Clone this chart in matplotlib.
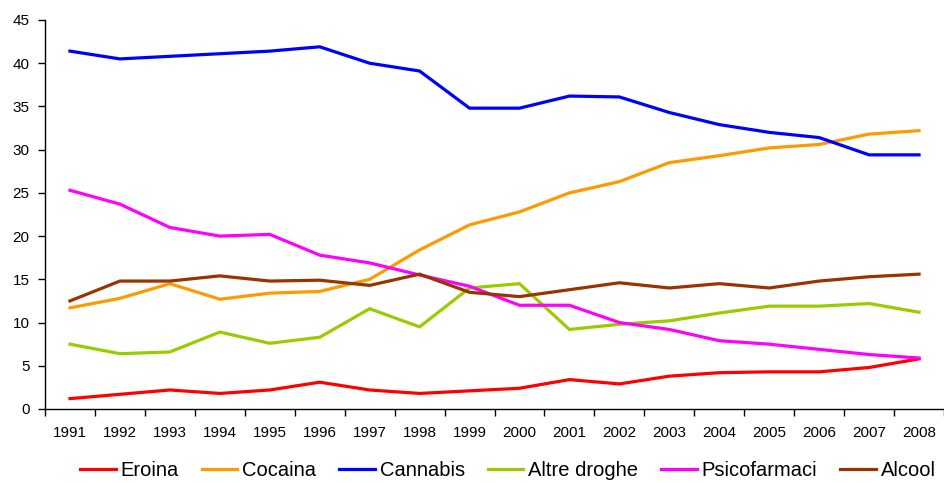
import matplotlib.pyplot as plt
import numpy as np

plt.rcParams['font.family'] = ['Liberation Sans', 'DejaVu Sans']

anni = [str(a) for a in range(1991, 2009)]
eroina = [1.2, 1.7, 2.2, 1.8, 2.2, 3.1, 2.2, 1.8, 2.1, 2.4, 3.4, 2.9, 3.8, 4.2, 4.3, 4.3, 4.8, 5.8]
cocaina = [11.7, 12.8, 14.5, 12.7, 13.4, 13.6, 15.0, 18.4, 21.3, 22.8, 25.0, 26.3, 28.5, 29.3, 30.2, 30.6, 31.8, 32.2]
cannabis = [41.4, 40.5, 40.8, 41.1, 41.4, 41.9, 40.0, 39.1, 34.8, 34.8, 36.2, 36.1, 34.3, 32.9, 32.0, 31.4, 29.4, 29.4]
altre = [7.5, 6.4, 6.6, 8.9, 7.6, 8.3, 11.6, 9.5, 14.0, 14.5, 9.2, 9.8, 10.2, 11.1, 11.9, 11.9, 12.2, 11.2]
psico = [25.3, 23.7, 21.0, 20.0, 20.2, 17.8, 16.9, 15.5, 14.2, 12.0, 12.0, 10.0, 9.2, 7.9, 7.5, 6.9, 6.3, 5.9]
alcool = [12.5, 14.8, 14.8, 15.4, 14.8, 14.9, 14.3, 15.6, 13.5, 13.0, 13.8, 14.6, 14.0, 14.5, 14.0, 14.8, 15.3, 15.6]

serie = [("Eroina", eroina, "#FF0000"),
         ("Cocaina", cocaina, "#FF9900"),
         ("Cannabis", cannabis, "#0000FF"),
         ("Altre droghe", altre, "#99CC00"),
         ("Psicofarmaci", psico, "#FF00FF"),
         ("Alcool", alcool, "#993300")]

fig = plt.figure(figsize=(9.44, 4.83), dpi=100)
ax = fig.add_axes([45/944, 1 - 409/483, 899/944, 389/483])

x = np.arange(len(anni))
for nome, val, col in serie:
    ax.plot(x, val, color=col, lw=2.3, label=nome, solid_joinstyle='miter')

ax.set_xlim(-0.5, len(anni) - 0.5)
ax.set_ylim(0, 45)
ax.set_yticks(range(0, 46, 5))
ax.set_xticks(x)
ax.set_xticklabels(anni)
ax.set_xticks(np.arange(-0.5, len(anni), 1), minor=True)
ax.tick_params(axis='x', which='major', length=0, pad=12, labelsize=11)
ax.tick_params(axis='x', which='minor', length=5, width=1)
ax.tick_params(axis='y', length=5, width=1, pad=6, labelsize=11)

for s in ['top', 'right']:
    ax.spines[s].set_visible(False)
for s in ['left', 'bottom']:
    ax.spines[s].set_linewidth(1)

fig.legend(loc='center', bbox_to_anchor=(508/944, 1 - 471/483), ncol=6,
           frameon=False, fontsize=14.5, handlelength=1.75, handletextpad=0.25,
           columnspacing=1.15, borderpad=0, borderaxespad=0)

fig.savefig("out.png", dpi=100)
